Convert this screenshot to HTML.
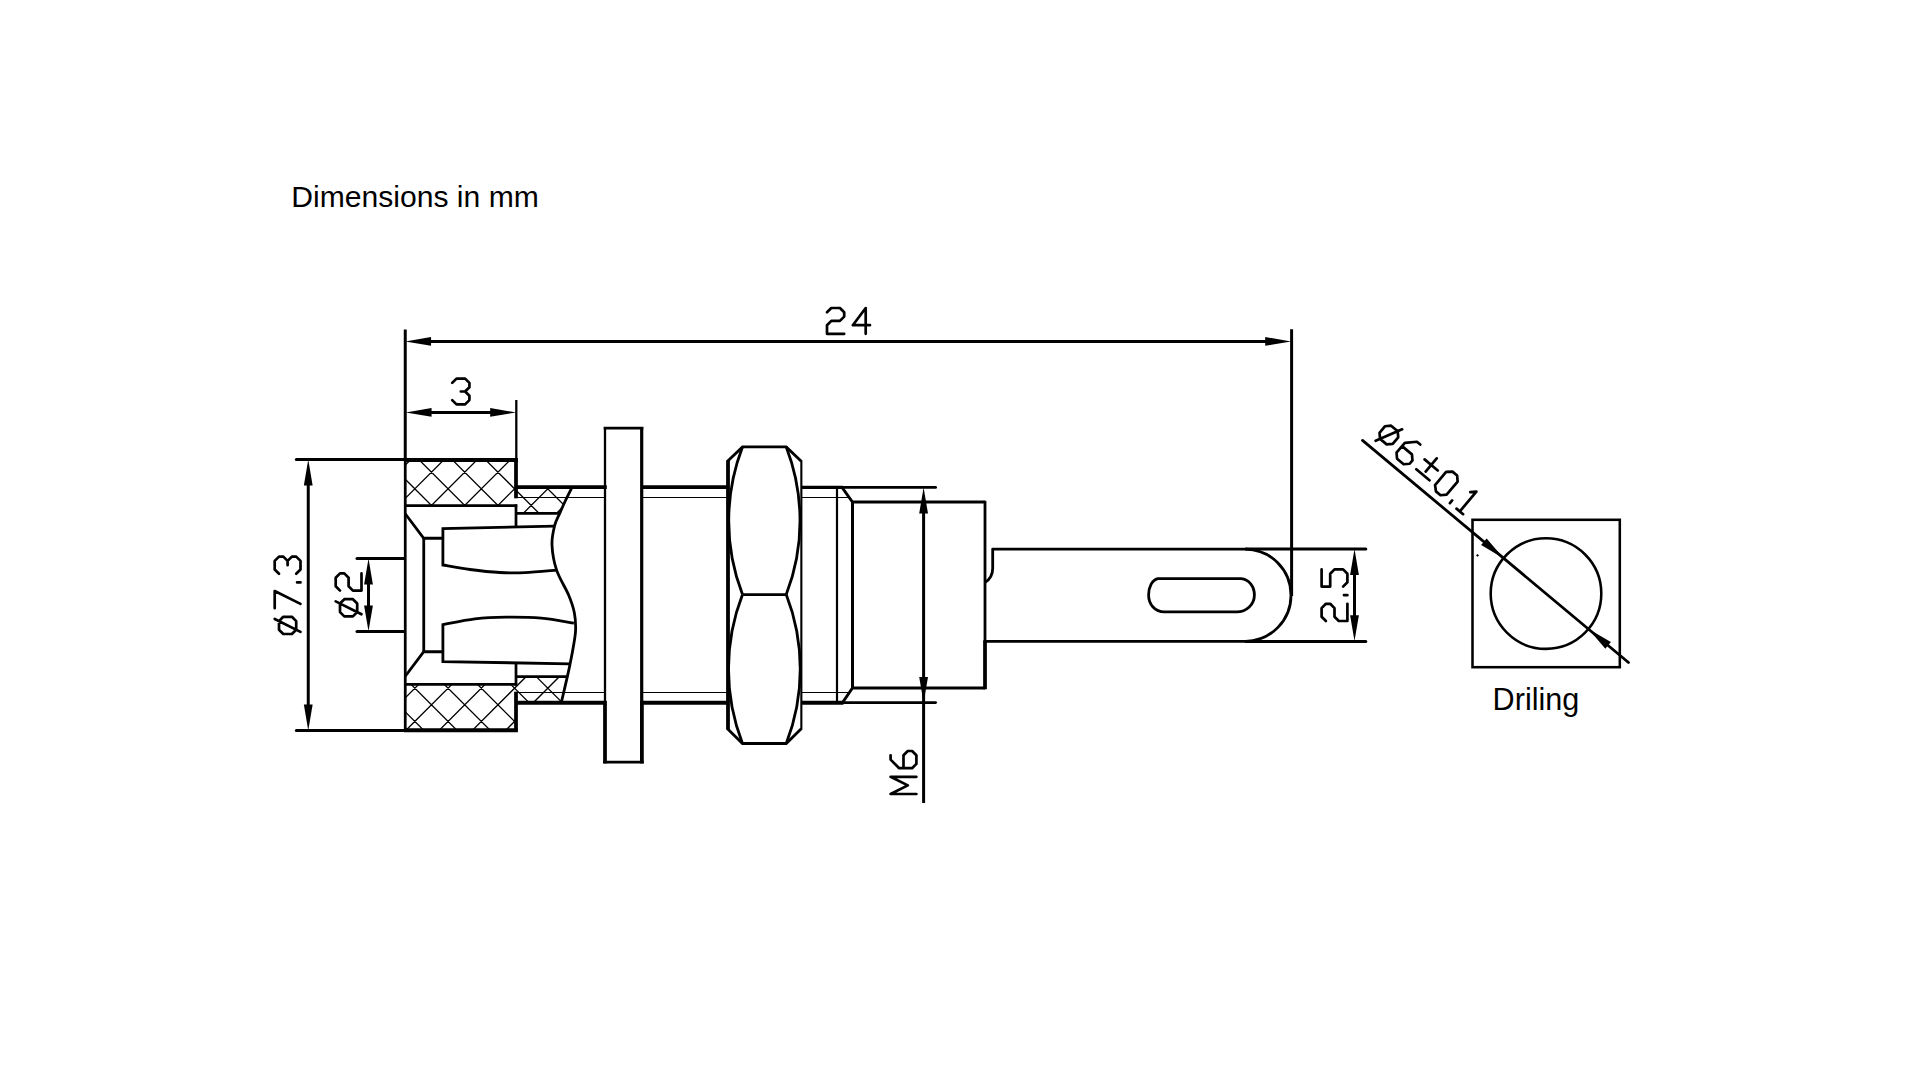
<!DOCTYPE html>
<html><head><meta charset="utf-8"><title>Dimensions in mm</title>
<style>
html,body{margin:0;padding:0;background:#fff;}
body{width:1920px;height:1080px;overflow:hidden;position:relative;font-family:"Liberation Sans",sans-serif;}
svg{position:absolute;left:0;top:0;}
text{font-family:"Liberation Sans",sans-serif;fill:#000;}
</style></head><body>
<svg width="1920" height="1080" viewBox="0 0 1920 1080">
<rect x="0" y="0" width="1920" height="1080" fill="#fff"/>
<text x="291.3" y="207.3" font-size="30.1">Dimensions in mm</text>
<text x="1492.6" y="709.8" font-size="30.6">Driling</text>
<defs>
<clipPath id="hc"><path d="M405.25 459.75H516.00V505.6H405.25Z M516.00 487H572.8L559.4 513.4H516.00Z M405.25 684.40H516.00V730.25H405.25Z M516.00 703.00H561.0L567.5 676.60H516.00Z"/></clipPath>
</defs>
<g clip-path="url(#hc)"><path d="M33.74 440L343.74 750 M66.97 440L376.97 750 M100.20 440L410.20 750 M133.43 440L443.43 750 M166.66 440L476.66 750 M199.89 440L509.89 750 M233.12 440L543.12 750 M266.35 440L576.35 750 M299.58 440L609.58 750 M332.81 440L642.81 750 M366.04 440L676.04 750 M399.27 440L709.27 750 M432.50 440L742.50 750 M465.73 440L775.73 750 M498.96 440L808.96 750 M532.19 440L842.19 750 M565.42 440L875.42 750 M598.65 440L908.65 750 M631.88 440L941.88 750 M665.11 440L975.11 750 M363.98 440L53.98 750 M397.21 440L87.21 750 M430.44 440L120.44 750 M463.67 440L153.67 750 M496.90 440L186.90 750 M530.13 440L220.13 750 M563.36 440L253.36 750 M596.59 440L286.59 750 M629.82 440L319.82 750 M663.05 440L353.05 750 M696.28 440L386.28 750 M729.51 440L419.51 750 M762.74 440L452.74 750 M795.97 440L485.97 750 M829.20 440L519.20 750 M862.43 440L552.43 750 M895.66 440L585.66 750 M928.89 440L618.89 750" fill="none" stroke="#000" stroke-width="1.30" stroke-linecap="butt" stroke-linejoin="miter" /></g>
<line x1="516.00" y1="497.50" x2="605.00" y2="497.50" stroke="#000" stroke-width="1.00" stroke-linecap="butt" />
<line x1="641.75" y1="497.50" x2="728.00" y2="497.50" stroke="#000" stroke-width="1.00" stroke-linecap="butt" />
<line x1="801.00" y1="497.50" x2="848.50" y2="497.50" stroke="#000" stroke-width="1.00" stroke-linecap="butt" />
<line x1="516.00" y1="692.50" x2="605.00" y2="692.50" stroke="#000" stroke-width="1.00" stroke-linecap="butt" />
<line x1="641.75" y1="692.50" x2="728.00" y2="692.50" stroke="#000" stroke-width="1.00" stroke-linecap="butt" />
<line x1="801.00" y1="692.50" x2="848.50" y2="692.50" stroke="#000" stroke-width="1.00" stroke-linecap="butt" />
<line x1="405.25" y1="458.00" x2="405.25" y2="732.00" stroke="#000" stroke-width="2.75" stroke-linecap="butt" />
<line x1="403.95" y1="460.00" x2="517.90" y2="460.00" stroke="#000" stroke-width="3.90" stroke-linecap="butt" />
<line x1="403.95" y1="730.25" x2="517.90" y2="730.25" stroke="#000" stroke-width="4.00" stroke-linecap="butt" />
<line x1="516.00" y1="459.75" x2="516.00" y2="498.30" stroke="#000" stroke-width="3.75" stroke-linecap="butt" />
<line x1="516.00" y1="730.25" x2="516.00" y2="691.70" stroke="#000" stroke-width="3.75" stroke-linecap="butt" />
<line x1="516.00" y1="487.10" x2="606.80" y2="487.10" stroke="#000" stroke-width="3.70" stroke-linecap="butt" />
<line x1="641.70" y1="487.10" x2="728.00" y2="487.10" stroke="#000" stroke-width="3.80" stroke-linecap="butt" />
<line x1="516.00" y1="702.80" x2="606.20" y2="702.80" stroke="#000" stroke-width="3.90" stroke-linecap="butt" />
<line x1="641.70" y1="702.80" x2="728.00" y2="702.80" stroke="#000" stroke-width="4.00" stroke-linecap="butt" />
<line x1="405.25" y1="505.60" x2="517.20" y2="505.60" stroke="#000" stroke-width="2.80" stroke-linecap="butt" />
<line x1="405.25" y1="684.40" x2="517.20" y2="684.40" stroke="#000" stroke-width="2.80" stroke-linecap="butt" />
<line x1="516.00" y1="504.40" x2="516.00" y2="526.60" stroke="#000" stroke-width="2.75" stroke-linecap="butt" />
<line x1="516.00" y1="685.60" x2="516.00" y2="663.40" stroke="#000" stroke-width="2.75" stroke-linecap="butt" />
<line x1="516.00" y1="513.40" x2="559.80" y2="513.40" stroke="#000" stroke-width="2.75" stroke-linecap="butt" />
<line x1="516.00" y1="676.60" x2="567.60" y2="676.60" stroke="#000" stroke-width="2.75" stroke-linecap="butt" />
<path d="M405.25 513.75L423.75 538.25H442.9" fill="none" stroke="#000" stroke-width="2.80" stroke-linecap="butt" stroke-linejoin="miter" />
<path d="M405.25 676.25L423.75 651.75H442.9" fill="none" stroke="#000" stroke-width="2.80" stroke-linecap="butt" stroke-linejoin="miter" />
<line x1="423.75" y1="538.25" x2="423.75" y2="651.75" stroke="#000" stroke-width="2.80" stroke-linecap="butt" />
<path d="M554.6 526.2L442.9 528.6V565 C447.42 565.75 460.48 568.25 470.00 569.50 C479.52 570.75 490.83 571.98 500.00 572.50 C509.17 573.02 515.57 573.00 525.00 572.60 C534.43 572.20 551.33 570.52 556.60 570.10" fill="none" stroke="#000" stroke-width="2.80" stroke-linecap="butt" stroke-linejoin="miter" />
<path d="M573.90 623.20 C568.46 622.37 552.52 619.20 541.25 618.20 C529.98 617.20 517.29 617.08 506.25 617.20 C495.21 617.32 485.56 617.65 475.00 618.90 C464.44 620.15 448.25 623.73 442.90 624.70V661.6L570.2 663.8" fill="none" stroke="#000" stroke-width="2.80" stroke-linecap="butt" stroke-linejoin="miter" />
<path d="M572.20 487.00 C571.08 489.25 567.60 496.07 565.50 500.50 C563.40 504.93 561.42 509.40 559.60 513.60 C557.78 517.80 555.87 520.47 554.60 525.70 C553.33 530.93 551.67 537.60 552.00 545.00 C552.33 552.40 553.83 561.77 556.60 570.10 C559.37 578.43 565.65 587.93 568.60 595.00 C571.55 602.07 573.13 606.67 574.30 612.50 C575.47 618.33 575.78 624.17 575.60 630.00 C575.42 635.83 574.12 641.87 573.20 647.50 C572.28 653.13 571.07 658.98 570.10 663.80 C569.13 668.62 568.88 669.87 567.40 676.40 C565.92 682.93 562.23 698.57 561.20 703.00" fill="none" stroke="#000" stroke-width="2.80" stroke-linecap="butt" stroke-linejoin="miter" />
<line x1="603.70" y1="428.10" x2="643.30" y2="428.10" stroke="#000" stroke-width="2.90" stroke-linecap="butt" />
<line x1="605.00" y1="427.00" x2="605.00" y2="703.00" stroke="#000" stroke-width="2.30" stroke-linecap="butt" />
<line x1="641.70" y1="427.00" x2="641.70" y2="703.00" stroke="#000" stroke-width="3.20" stroke-linecap="butt" />
<line x1="605.00" y1="700.90" x2="605.00" y2="763.40" stroke="#000" stroke-width="3.75" stroke-linecap="butt" />
<line x1="641.90" y1="700.90" x2="641.90" y2="763.40" stroke="#000" stroke-width="3.75" stroke-linecap="butt" />
<line x1="603.20" y1="762.10" x2="643.70" y2="762.10" stroke="#000" stroke-width="2.70" stroke-linecap="butt" />
<path d="M727.50 461.25L742.5 446.90H786.25L801.25 461.25" fill="none" stroke="#000" stroke-width="2.80" stroke-linecap="butt" stroke-linejoin="miter" />
<path d="M727.50 728.75L742.5 743.50H786.25L801.25 728.75" fill="none" stroke="#000" stroke-width="2.80" stroke-linecap="butt" stroke-linejoin="miter" />
<line x1="728.00" y1="460.30" x2="728.00" y2="729.70" stroke="#000" stroke-width="3.80" stroke-linecap="butt" />
<line x1="801.35" y1="460.30" x2="801.35" y2="729.70" stroke="#000" stroke-width="2.10" stroke-linecap="butt" />
<line x1="742.50" y1="594.60" x2="786.25" y2="594.60" stroke="#000" stroke-width="2.80" stroke-linecap="butt" />
<path d="M742.5 446.90A205 205 0 0 0 742.5 594.60 M786.25 446.90A205 205 0 0 1 786.25 594.60" fill="none" stroke="#000" stroke-width="2.80" stroke-linecap="butt" stroke-linejoin="miter" />
<path d="M742.5 594.60A205 205 0 0 0 742.5 743.50 M786.25 594.60A205 205 0 0 1 786.25 743.50" fill="none" stroke="#000" stroke-width="2.80" stroke-linecap="butt" stroke-linejoin="miter" />
<line x1="801.00" y1="487.30" x2="843.00" y2="487.30" stroke="#000" stroke-width="3.20" stroke-linecap="butt" />
<line x1="842.00" y1="487.40" x2="935.60" y2="487.40" stroke="#000" stroke-width="2.80" stroke-linecap="round" />
<line x1="801.00" y1="702.80" x2="843.50" y2="702.80" stroke="#000" stroke-width="4.00" stroke-linecap="butt" />
<line x1="842.00" y1="702.60" x2="935.60" y2="702.60" stroke="#000" stroke-width="2.80" stroke-linecap="round" />
<line x1="837.00" y1="487.00" x2="837.00" y2="703.00" stroke="#000" stroke-width="2.20" stroke-linecap="butt" />
<path d="M842 487.4L852.5 502H985.0" fill="none" stroke="#000" stroke-width="2.80" stroke-linecap="butt" stroke-linejoin="miter" />
<path d="M842.5 702.6L852.5 688H985.0" fill="none" stroke="#000" stroke-width="2.80" stroke-linecap="butt" stroke-linejoin="miter" />
<line x1="852.50" y1="501.00" x2="852.50" y2="689.00" stroke="#000" stroke-width="3.00" stroke-linecap="butt" />
<line x1="985.00" y1="500.80" x2="985.00" y2="642.00" stroke="#000" stroke-width="2.80" stroke-linecap="butt" />
<line x1="985.00" y1="640.40" x2="985.00" y2="689.30" stroke="#000" stroke-width="3.75" stroke-linecap="butt" />
<path d="M985.1 582.4C989.3 579.8 992.7 575.5 992.7 568.3V549.05H1246.50" fill="none" stroke="#000" stroke-width="2.80" stroke-linecap="butt" stroke-linejoin="round" />
<path d="M985.0 641.40H1246.50" fill="none" stroke="#000" stroke-width="2.80" stroke-linecap="butt" stroke-linejoin="miter" />
<path d="M1245.50 549.05A46.18 46.18 0 0 1 1245.50 641.40" fill="none" stroke="#000" stroke-width="2.80" stroke-linecap="butt" stroke-linejoin="miter" />
<path d="M1157.8 578.6H1241.1C1249 579.3 1254.4 586.5 1254.4 595C1254.4 604.5 1246.5 611.9 1236.7 611.9H1164.4C1155 611.9 1148.6 604.5 1148.6 595C1148.6 587 1152 580 1157.8 578.6Z" fill="none" stroke="#000" stroke-width="2.80" stroke-linecap="butt" stroke-linejoin="round" />
<line x1="405.25" y1="329.50" x2="405.25" y2="459.00" stroke="#000" stroke-width="3.00" stroke-linecap="butt" />
<line x1="1291.60" y1="329.20" x2="1291.60" y2="596.00" stroke="#000" stroke-width="3.00" stroke-linecap="butt" />
<line x1="425.25" y1="341.40" x2="1271.60" y2="341.40" stroke="#000" stroke-width="3.00" stroke-linecap="butt" />
<polygon points="405.25,341.40 431.05,337.00 431.05,345.80" fill="#000"/>
<polygon points="1291.00,341.40 1265.20,345.80 1265.20,337.00" fill="#000"/>
<path d="M827.00 312.30 L831.30 308.00 L839.90 308.00 L844.20 312.30 L844.20 316.60 L839.90 320.90 L831.30 320.90 L827.00 325.20 L827.00 333.80 L844.20 333.80 M865.70 333.80 L865.70 308.00 L852.80 325.20 L870.00 325.20" fill="none" stroke="#000" stroke-width="2.70" stroke-linecap="round" stroke-linejoin="round"/>
<line x1="516.30" y1="400.00" x2="516.30" y2="460.00" stroke="#000" stroke-width="2.30" stroke-linecap="butt" />
<line x1="425.25" y1="412.40" x2="496.00" y2="412.40" stroke="#000" stroke-width="3.00" stroke-linecap="butt" />
<polygon points="405.75,412.40 431.55,408.00 431.55,416.80" fill="#000"/>
<polygon points="516.00,412.40 490.20,416.80 490.20,408.00" fill="#000"/>
<path d="M452.20 382.90 L456.50 378.60 L465.10 378.60 L469.40 382.90 L469.40 387.20 L465.10 391.50 L469.40 395.80 L469.40 400.10 L465.10 404.40 L456.50 404.40 L452.20 400.10 M465.10 391.50 L460.80 391.50" fill="none" stroke="#000" stroke-width="2.70" stroke-linecap="round" stroke-linejoin="round"/>
<line x1="296.30" y1="459.40" x2="405.25" y2="459.40" stroke="#000" stroke-width="3.00" stroke-linecap="round" />
<line x1="296.30" y1="730.60" x2="405.25" y2="730.60" stroke="#000" stroke-width="3.00" stroke-linecap="round" />
<line x1="308.25" y1="479.40" x2="308.25" y2="710.60" stroke="#000" stroke-width="3.00" stroke-linecap="butt" />
<polygon points="308.25,459.60 312.65,485.40 303.85,485.40" fill="#000"/>
<polygon points="308.25,730.40 303.85,704.60 312.65,704.60" fill="#000"/>
<path d="M296.20 629.70 L291.90 634.00 L283.30 634.00 L279.00 629.70 L279.00 621.10 L283.30 616.80 L291.90 616.80 L296.20 621.10 L296.20 629.70 M300.50 631.85 L274.70 618.95 M274.70 608.20 L274.70 591.00 L300.50 603.90 M300.50 582.40 L297.06 582.40 M279.00 573.80 L274.70 569.50 L274.70 560.90 L279.00 556.60 L283.30 556.60 L287.60 560.90 L291.90 556.60 L296.20 556.60 L300.50 560.90 L300.50 569.50 L296.20 573.80 M287.60 560.90 L287.60 565.20" fill="none" stroke="#000" stroke-width="2.70" stroke-linecap="round" stroke-linejoin="round"/>
<line x1="357.00" y1="558.40" x2="403.85" y2="558.40" stroke="#000" stroke-width="3.00" stroke-linecap="round" />
<line x1="357.00" y1="631.40" x2="403.85" y2="631.40" stroke="#000" stroke-width="3.00" stroke-linecap="round" />
<line x1="368.50" y1="578.40" x2="368.50" y2="611.40" stroke="#000" stroke-width="3.00" stroke-linecap="butt" />
<polygon points="368.50,558.60 372.90,584.40 364.10,584.40" fill="#000"/>
<polygon points="368.50,631.20 364.10,605.40 372.90,605.40" fill="#000"/>
<path d="M357.20 612.10 L352.90 616.40 L344.30 616.40 L340.00 612.10 L340.00 603.50 L344.30 599.20 L352.90 599.20 L357.20 603.50 L357.20 612.10 M361.50 614.25 L335.70 601.35 M340.00 590.60 L335.70 586.30 L335.70 577.70 L340.00 573.40 L344.30 573.40 L348.60 577.70 L348.60 586.30 L352.90 590.60 L361.50 590.60 L361.50 573.40" fill="none" stroke="#000" stroke-width="2.70" stroke-linecap="round" stroke-linejoin="round"/>
<line x1="923.60" y1="507.40" x2="923.60" y2="803.00" stroke="#000" stroke-width="3.00" stroke-linecap="butt" />
<polygon points="923.60,487.60 928.00,513.40 919.20,513.40" fill="#000"/>
<polygon points="923.60,702.80 919.20,677.00 928.00,677.00" fill="#000"/>
<path d="M916.40 794.00 L890.60 794.00 L907.80 785.40 L890.60 776.80 L916.40 776.80 M890.60 755.30 L890.60 759.60 L899.20 768.20 L912.10 768.20 L916.40 763.90 L916.40 755.30 L912.10 751.00 L907.80 751.00 L903.50 755.30 L903.50 768.20" fill="none" stroke="#000" stroke-width="2.70" stroke-linecap="round" stroke-linejoin="round"/>
<line x1="1246.00" y1="549.00" x2="1365.80" y2="549.00" stroke="#000" stroke-width="3.00" stroke-linecap="round" />
<line x1="1246.00" y1="641.40" x2="1365.80" y2="641.40" stroke="#000" stroke-width="3.00" stroke-linecap="round" />
<line x1="1354.50" y1="568.90" x2="1354.50" y2="621.25" stroke="#000" stroke-width="3.00" stroke-linecap="butt" />
<polygon points="1354.50,549.10 1358.90,574.90 1350.10,574.90" fill="#000"/>
<polygon points="1354.50,641.00 1350.10,615.20 1358.90,615.20" fill="#000"/>
<path d="M1325.90 621.00 L1321.60 616.70 L1321.60 608.10 L1325.90 603.80 L1330.20 603.80 L1334.50 608.10 L1334.50 616.70 L1338.80 621.00 L1347.40 621.00 L1347.40 603.80 M1347.40 595.20 L1343.96 595.20 M1321.60 569.40 L1321.60 586.60 L1330.20 586.60 L1330.20 573.70 L1334.50 569.40 L1343.10 569.40 L1347.40 573.70 L1347.40 582.30 L1343.10 586.60" fill="none" stroke="#000" stroke-width="2.70" stroke-linecap="round" stroke-linejoin="round"/>
<rect x="1472.5" y="519.8" width="147.3" height="147.4" fill="none" stroke="#000" stroke-width="2.55"/>
<circle cx="1546" cy="593.6" r="55.3" fill="none" stroke="#000" stroke-width="2.55"/>
<line x1="1362.50" y1="440.44" x2="1628.50" y2="662.46" stroke="#000" stroke-width="2.80" stroke-linecap="round" />
<polygon points="1503.54,558.16 1481.10,545.10 1486.68,538.42" fill="#000"/>
<polygon points="1588.46,629.04 1610.90,642.10 1605.32,648.78" fill="#000"/>
<path d="M1380.06 438.87 L1379.53 432.81 L1385.06 426.22 L1391.11 425.69 L1397.70 431.22 L1398.23 437.28 L1392.70 443.87 L1386.65 444.40 L1380.06 438.87 M1375.65 440.78 L1402.11 429.31 M1420.23 444.51 L1416.94 441.75 L1404.82 442.81 L1396.53 452.69 L1397.06 458.75 L1403.65 464.28 L1409.70 463.75 L1412.47 460.45 L1411.94 454.39 L1402.06 446.10 M1424.58 459.39 L1437.76 470.45 M1425.64 471.51 L1436.70 458.33 M1416.29 469.27 L1429.47 480.33 M1435.07 485.03 L1446.12 471.85 L1452.51 471.60 L1457.12 475.47 L1457.65 481.53 L1446.60 494.70 L1440.54 495.23 L1435.93 491.36 L1435.07 485.03 M1449.93 503.11 L1452.14 500.47 M1470.33 492.17 L1476.39 491.64 L1459.81 511.40 M1456.51 508.64 L1463.10 514.17" fill="none" stroke="#000" stroke-width="2.70" stroke-linecap="round" stroke-linejoin="round"/>
<path d="M1477.5 554.0L1479.0 555.4L1477.5 556.8L1476.0 555.4Z" fill="#000"/>
</svg>
</body></html>
